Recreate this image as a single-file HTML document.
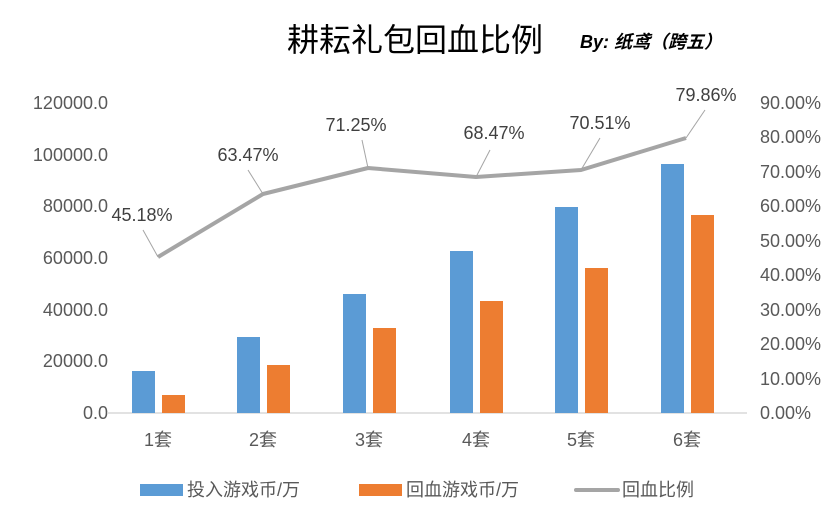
<!DOCTYPE html>
<html><head><meta charset="utf-8"><style>
html,body{margin:0;padding:0;background:#fff;}
svg text{font-family:"Liberation Sans","Noto Sans CJK SC",sans-serif;fill:#595959;}
</style></head><body>
<svg width="834" height="520" viewBox="0 0 834 520" xmlns="http://www.w3.org/2000/svg">
<rect width="834" height="520" fill="#fff"/>
<text x="287" y="51" font-size="32" style="fill:#000">耕耘礼包回血比例</text>
<text x="580" y="48" font-size="18" font-weight="bold" font-style="italic" style="fill:#000">By:  纸鸢（跨五）</text>
<g font-size="18" text-anchor="end">
<text x="108" y="419">0.0</text>
<text x="108" y="367">20000.0</text>
<text x="108" y="316">40000.0</text>
<text x="108" y="264">60000.0</text>
<text x="108" y="212">80000.0</text>
<text x="108" y="161">100000.0</text>
<text x="108" y="109">120000.0</text>
</g>
<g font-size="18">
<text x="760" y="419">0.00%</text>
<text x="760" y="385">10.00%</text>
<text x="760" y="350">20.00%</text>
<text x="760" y="316">30.00%</text>
<text x="760" y="281">40.00%</text>
<text x="760" y="247">50.00%</text>
<text x="760" y="212">60.00%</text>
<text x="760" y="178">70.00%</text>
<text x="760" y="143">80.00%</text>
<text x="760" y="109">90.00%</text>
</g>
<line x1="107" y1="413" x2="747" y2="413" stroke="#d9d9d9" stroke-width="1.5"/>
<g fill="#5b9bd5">
<rect x="132" y="371" width="23" height="42"/>
<rect x="237" y="337" width="23" height="76"/>
<rect x="343" y="294" width="23" height="119"/>
<rect x="450" y="251" width="23" height="162"/>
<rect x="555" y="207" width="23" height="206"/>
<rect x="661" y="164" width="23" height="249"/>
</g>
<g fill="#ed7d31">
<rect x="162" y="395" width="23" height="18"/>
<rect x="267" y="365" width="23" height="48"/>
<rect x="373" y="328" width="23" height="85"/>
<rect x="480" y="301" width="23" height="112"/>
<rect x="585" y="268" width="23" height="145"/>
<rect x="691" y="215" width="23" height="198"/>
</g>
<polyline points="158,257 263,194 368,168 476,177 581,170 686,138" fill="none" stroke="#a5a5a5" stroke-width="4" stroke-linejoin="round"/>
<g stroke="#a5a5a5" stroke-width="1" fill="none">
<polyline points="143,230 158,257"/>
<polyline points="248,170 263,194"/>
<polyline points="362,140 368,168"/>
<polyline points="490,150 476,177"/>
<polyline points="600,138 581,170"/>
<polyline points="705,110 686,138"/>
</g>
<g font-size="18" text-anchor="middle">
<text x="142" y="221" style="fill:#404040">45.18%</text>
<text x="248" y="161" style="fill:#404040">63.47%</text>
<text x="356" y="131" style="fill:#404040">71.25%</text>
<text x="494" y="139" style="fill:#404040">68.47%</text>
<text x="600" y="129" style="fill:#404040">70.51%</text>
<text x="706" y="101" style="fill:#404040">79.86%</text>
</g>
<g font-size="18" text-anchor="middle">
<text x="158" y="446">1套</text>
<text x="263" y="446">2套</text>
<text x="369" y="446">3套</text>
<text x="476" y="446">4套</text>
<text x="581" y="446">5套</text>
<text x="687" y="446">6套</text>
</g>
<rect x="140" y="484" width="43" height="12" fill="#5b9bd5"/>
<text x="187" y="496" font-size="18">投入游戏币/万</text>
<rect x="359" y="484" width="43" height="12" fill="#ed7d31"/>
<text x="406" y="496" font-size="18">回血游戏币/万</text>
<line x1="576" y1="490" x2="618" y2="490" stroke="#a5a5a5" stroke-width="4" stroke-linecap="round"/>
<text x="622" y="496" font-size="18">回血比例</text>
</svg>
</body></html>
